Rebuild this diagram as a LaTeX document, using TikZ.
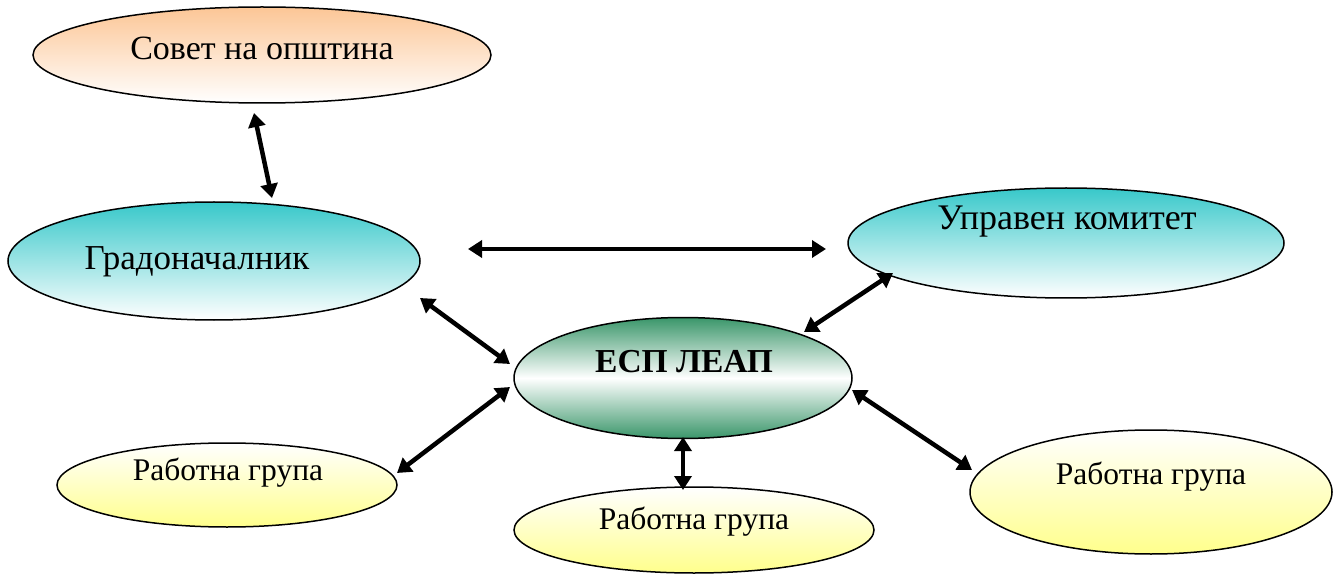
\documentclass[tikz,border=0pt]{standalone}
\usepackage{fontspec}
\setmainfont{Liberation Serif}
\usetikzlibrary{shapes.geometric,arrows.meta}
\definecolor{orangetop}{RGB}{252,198,150}
\definecolor{tealtop}{RGB}{56,200,202}
\definecolor{greentop}{RGB}{58,150,106}
\definecolor{yellowbot}{RGB}{255,255,140}
\tikzset{
  oval/.style={ellipse, draw=black, line width=1.5pt, inner sep=0pt},
  orangeoval/.style={oval, top color=orangetop, bottom color=white},
  tealoval/.style={oval, top color=tealtop, bottom color=white},
  greenoval/.style={oval, top color=greentop, bottom color=greentop, middle color=white},
  yellowoval/.style={oval, top color=white, bottom color=yellowbot},
  lbl/.style={inner sep=0pt, font=\fontsize{34.5}{40}\selectfont},
  smalllbl/.style={inner sep=0pt, font=\fontsize{31.5}{36}\selectfont},
  link/.style={line width=4.5pt, {Triangle[length=14pt,width=17pt]}-{Triangle[length=14pt,width=17pt]}}
}
\begin{document}
\begin{tikzpicture}[x=1pt,y=-1pt]
\useasboundingbox (0,0) rectangle (1341,577);
% ellipses
\node[orangeoval, minimum width=458pt, minimum height=96pt] (sovet) at (262,55) {};
\node[tealoval, minimum width=412pt, minimum height=118pt] (grad) at (214,261) {};
\node[tealoval, minimum width=436pt, minimum height=110pt] (uprav) at (1066,243) {};
\node[greenoval, minimum width=338pt, minimum height=121pt] (esp) at (683,378) {};
\node[yellowoval, minimum width=340pt, minimum height=84pt] (rgl) at (227,485) {};
\node[yellowoval, minimum width=360pt, minimum height=86pt] (rgb) at (694,530) {};
\node[yellowoval, minimum width=362pt, minimum height=124pt] (rgr) at (1151,492) {};
% texts
\node[lbl, font=\fontsize{34}{40}\selectfont] (tsovet) at (262,48) {Совет на општина};
\node[lbl, font=\fontsize{35}{40}\selectfont] (tgrad) at (197,262) {Градоначалник};
\node[lbl, font=\fontsize{36}{40}\selectfont] (tuprav) at (1067,222) {Управен комитет};
\node[lbl, font=\fontsize{33.5}{40}\selectfont\bfseries] (tesp) at (684,362) {ЕСП ЛЕАП};
\node[smalllbl] (trgl) at (228,473) {Работна група};
\node[smalllbl] (trgb) at (694,522) {Работна група};
\node[smalllbl] (trgr) at (1151,477) {Работна група};
% connector end points
\coordinate (a1) at (254,113); \coordinate (a2) at (272,198);
\coordinate (h1) at (468,249); \coordinate (h2) at (826,249);
\coordinate (g1) at (420,298); \coordinate (g2) at (510,364);
\coordinate (u1) at (804,332); \coordinate (u2) at (893,273);
\coordinate (l1) at (510,387); \coordinate (l2) at (397,473);
\coordinate (b1) at (683,437); \coordinate (b2) at (683,490);
\coordinate (r1) at (852,390); \coordinate (r2) at (972,470);
% connectors
\draw[link] (a1) -- (a2);
\draw[link] (h1) -- (h2);
\draw[link] (g1) -- (g2);
\draw[link] (u1) -- (u2);
\draw[link] (l1) -- (l2);
\draw[link] (b1) -- (b2);
\draw[link] (r1) -- (r2);
\end{tikzpicture}
\end{document}
